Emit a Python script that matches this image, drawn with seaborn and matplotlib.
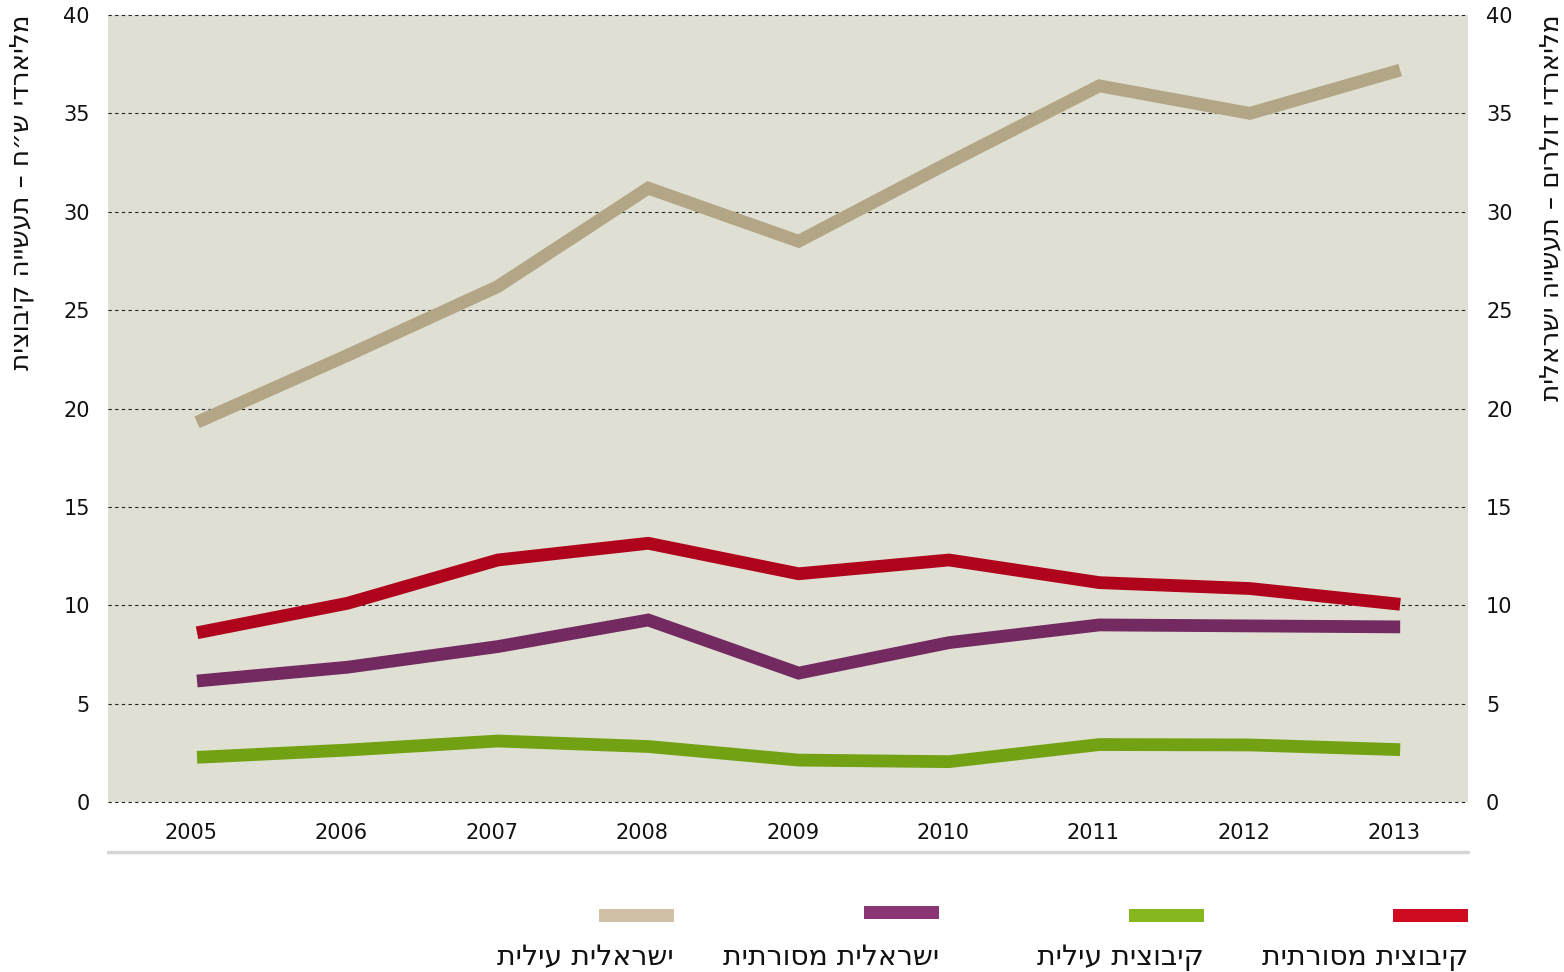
import pandas as pd
import matplotlib.pyplot as plt
import seaborn as sns
from matplotlib.lines import Line2D
from matplotlib.patches import Rectangle
from matplotlib.transforms import ScaledTranslation

# ---- data (billions) ----
years = [2005, 2006, 2007, 2008, 2009, 2010, 2011, 2012, 2013]
israeli_hitech = [19.3, 22.7, 26.2, 31.2, 28.5, 32.5, 36.4, 35.0, 37.2]
kibbutz_traditional = [8.6, 10.1, 12.3, 13.15, 11.6, 12.3, 11.15, 10.85, 10.05]
israeli_traditional = [6.15, 6.85, 7.9, 9.25, 6.55, 8.1, 9.0, 8.95, 8.9]
kibbutz_hitech = [2.27, 2.64, 3.1, 2.82, 2.13, 2.05, 2.92, 2.9, 2.66]

series_names = ["ישראלית עילית", "ישראלית מסורתית", "קיבוצית עילית", "קיבוצית מסורתית"]
line_colors = ["#b3a687", "#722a60", "#72a214", "#b0041c"]
legend_colors = ["#d0c0a6", "#8a3674", "#86b71e", "#d00a20"]
yticks = [0, 5, 10, 15, 20, 25, 30, 35, 40]

left_label = "מליארדי ש״ח – תעשייה קיבוצית"
right_label = "מליארדי דולרים – תעשייה ישראלית"


def rtl(s):
    # matplotlib has no bidi support, so flip Hebrew into visual order
    return s[::-1]


df = pd.DataFrame({
    "year": years * 4,
    "value": israeli_hitech + israeli_traditional + kibbutz_hitech + kibbutz_traditional,
    "series": sum([[n] * len(years) for n in series_names], []),
})

sns.set_style("white")
plt.rcParams["font.family"] = ["DejaVu Sans"]

fig = plt.figure(figsize=(15.64, 9.72), dpi=100)
ax = fig.add_axes([108 / 1564, 1 - 802 / 972, 1360 / 1564, 787 / 972])
ax.set_facecolor("#dfe0d3")

sns.lineplot(data=df, x="year", y="value", hue="series", hue_order=series_names,
             palette=dict(zip(series_names, line_colors)), linewidth=9.2,
             solid_capstyle="butt", solid_joinstyle="miter", legend=False, ax=ax, zorder=3)

ax.set_xlim(2004.408, 2013.451)
ax.set_ylim(0, 40)
ax.set_xticks(years)
ax.set_xticklabels([str(y) for y in years])
ax.set_yticks(yticks)
ax.tick_params(axis="both", length=0, labelsize=15, colors="#111111")
ax.tick_params(axis="x", pad=15)
ax.tick_params(axis="y", pad=13)
ax.set_xlabel("")
ax.set_ylabel("")
for sp in ax.spines.values():
    sp.set_visible(False)
# year labels sit a little left of the data points in the original
shift = ScaledTranslation(-6 / 100, 0, fig.dpi_scale_trans)
for lab in ax.get_xticklabels():
    lab.set_transform(lab.get_transform() + shift)

ax.grid(axis="y", color="#222222", linestyle=(0, (3, 3)), linewidth=0.8)
ax.grid(axis="x", visible=False)
for gl in ax.get_ygridlines():
    gl.set_clip_on(False)
ax.set_axisbelow(True)

# right axis with the same scale
ax2 = ax.twinx()
ax2.set_ylim(0, 40)
ax2.set_yticks(yticks)
ax2.tick_params(axis="y", length=0, labelsize=15, pad=13, colors="#111111")
for sp in ax2.spines.values():
    sp.set_visible(False)
ax2.grid(False)

# axis titles (vertical, top aligned)
fig.text(22 / 1564, 1 - 14 / 972, rtl(left_label), rotation=90, va="top", ha="center",
         fontsize=18.8, color="#111111")
fig.text(1551 / 1564, 1 - 14 / 972, rtl(right_label), rotation=90, va="top", ha="center",
         fontsize=18.8, color="#111111")

# light rule under the year labels
fig.add_artist(Line2D([108 / 1564, 1468 / 1564], [1 - 852 / 972] * 2,
                      color="#d6d6d6", linewidth=2.5))

# legend: bar above, text below, right aligned
bar_right = [674, 939, 1204, 1468]
bar_top = [909, 906, 909, 909]
for name, col, xr, yt in zip(series_names, legend_colors, bar_right, bar_top):
    fig.add_artist(Rectangle(((xr - 75) / 1564, 1 - (yt + 13) / 972), 75 / 1564, 13 / 972,
                             transform=fig.transFigure, color=col, linewidth=0))
    fig.text(xr / 1564, 1 - 957 / 972, rtl(name), ha="right", va="center",
             fontsize=20.3, color="#111111")

fig.savefig("out.png", dpi=100)
